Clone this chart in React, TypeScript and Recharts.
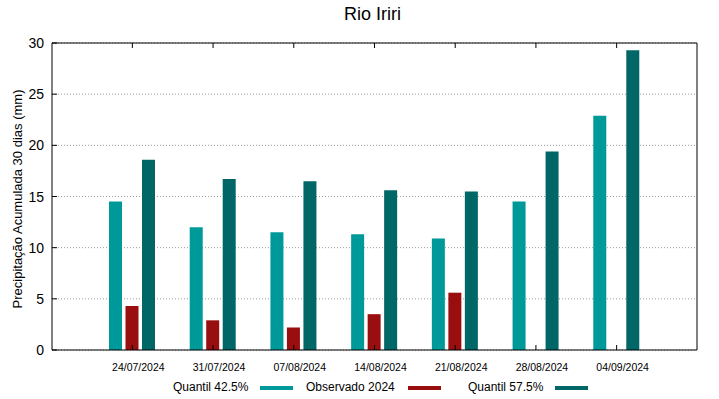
import React from 'react'
import { BarChart, Bar, XAxis, YAxis, CartesianGrid } from 'recharts'

const dates = ['24/07/2024', '31/07/2024', '07/08/2024', '14/08/2024', '21/08/2024', '28/08/2024', '04/09/2024']
const quantil425 = [14.5, 12.0, 11.5, 11.3, 10.9, 14.5, 22.9]
const observado2024 = [4.3, 2.9, 2.2, 3.5, 5.6, null, null]
const quantil575 = [18.6, 16.7, 16.5, 15.6, 15.5, 19.4, 29.3]
const yTicks = [0, 5, 10, 15, 20, 25, 30]

const colors = {
  low: '#009999', // Quantil 42.5%
  obs: '#990f0f', // Observado 2024
  high: '#006666', // Quantil 57.5%
  grid: '#9a9a9a',
  text: '#000000'
}

const font = '"Liberation Sans", Arial, sans-serif'

const data = dates.map((date, i) => ({
  date,
  q425: quantil425[i],
  obs: observado2024[i],
  q575: quantil575[i]
}))

const TICK_LEN = 5

const BottomTick = ({ x, y, payload }: any) => (
  <g>
    <line x1={x} y1={y} x2={x} y2={y - TICK_LEN} stroke="#000" />
    <text x={x + 6} y={y + 21} textAnchor="middle" fontSize={10.5} fontFamily={font} fill={colors.text}>
      {payload.value}
    </text>
  </g>
)

const TopTick = ({ x, y }: any) => (
  <line x1={x} y1={y} x2={x} y2={y + TICK_LEN} stroke="#000" />
)

const LeftTick = ({ x, y, payload }: any) => (
  <g>
    <line x1={x} y1={y} x2={x + TICK_LEN} y2={y} stroke="#000" />
    <text x={x - 8} y={y + 5} textAnchor="end" fontSize={14} fontFamily={font} fill={colors.text}>
      {payload.value}
    </text>
  </g>
)

const RightTick = ({ x, y }: any) => (
  <line x1={x} y1={y} x2={x - TICK_LEN} y2={y} stroke="#000" />
)

const legendItems = [
  { label: 'Quantil 42.5%', color: colors.low, textLeft: 173, lineLeft: 260 },
  { label: 'Observado 2024', color: colors.obs, textLeft: 306, lineLeft: 408 },
  { label: 'Quantil 57.5%', color: colors.high, textLeft: 468, lineLeft: 555 }
]

export default function App() {
  return (
    <div style={{ position: 'absolute', left: 0, top: 0, width: 719, height: 399, background: '#fff', fontFamily: font }}>
      <div style={{ position: 'absolute', left: 0, width: 745, top: 3, textAlign: 'center', fontSize: 18, lineHeight: '22px' }}>
        Rio Iriri
      </div>
      <div
        style={{
          position: 'absolute',
          left: 17,
          top: 199,
          transform: 'translate(-50%, -50%) rotate(-90deg)',
          whiteSpace: 'nowrap',
          fontSize: 13,
          lineHeight: '15px'
        }}
      >
        Precipitação Acumulada 30 dias (mm)
      </div>

      <BarChart
        width={719}
        height={399}
        data={data}
        margin={{ top: 42, right: 21, bottom: 48, left: 51 }}
        barSize={13}
        barGap={3.5}
      >
        <CartesianGrid
          xAxisId="bottom"
          yAxisId="left"
          vertical={false}
          stroke={colors.grid}
          strokeDasharray="1 2"
        />
        <XAxis
          xAxisId="bottom"
          dataKey="date"
          height={1}
          padding={{ left: 40, right: 40 }}
          interval={0}
          tickSize={0}
          tickMargin={0}
          tickLine={false}
          axisLine={{ stroke: '#000' }}
          tick={<BottomTick />}
        />
        <XAxis
          xAxisId="top"
          orientation="top"
          dataKey="date"
          height={1}
          padding={{ left: 40, right: 40 }}
          interval={0}
          tickSize={0}
          tickMargin={0}
          tickLine={false}
          axisLine={{ stroke: '#000' }}
          tick={<TopTick />}
        />
        <YAxis
          yAxisId="left"
          width={1}
          domain={[0, 30]}
          ticks={yTicks}
          interval={0}
          tickSize={0}
          tickMargin={0}
          tickLine={false}
          axisLine={{ stroke: '#000' }}
          tick={<LeftTick />}
        />
        <YAxis
          yAxisId="right"
          orientation="right"
          width={1}
          domain={[0, 30]}
          ticks={yTicks}
          interval={0}
          tickSize={0}
          tickMargin={0}
          tickLine={false}
          axisLine={{ stroke: '#000' }}
          tick={<RightTick />}
        />
        <Bar xAxisId="bottom" yAxisId="left" dataKey="q425" name="Quantil 42.5%" fill={colors.low} isAnimationActive={false} />
        <Bar xAxisId="bottom" yAxisId="left" dataKey="obs" name="Observado 2024" fill={colors.obs} isAnimationActive={false} />
        <Bar xAxisId="bottom" yAxisId="left" dataKey="q575" name="Quantil 57.5%" fill={colors.high} isAnimationActive={false} />
      </BarChart>

      {legendItems.map((item) => (
        <React.Fragment key={item.label}>
          <div style={{ position: 'absolute', left: item.textLeft, top: 380, fontSize: 12, lineHeight: '14px', whiteSpace: 'nowrap' }}>
            {item.label}
          </div>
          <div style={{ position: 'absolute', left: item.lineLeft, top: 386, width: 33, height: 4, background: item.color }} />
        </React.Fragment>
      ))}
    </div>
  )
}
